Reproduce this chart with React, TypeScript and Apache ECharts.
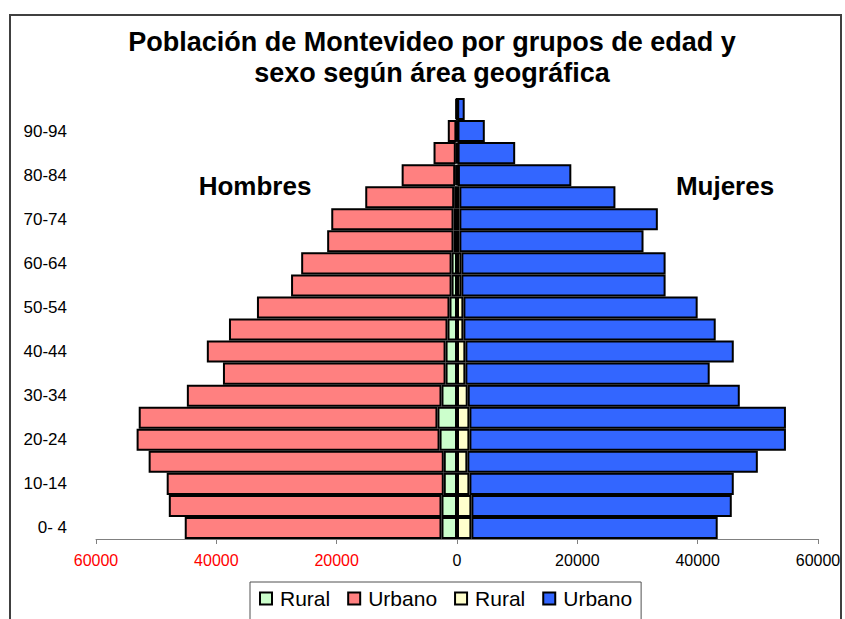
import React, { useEffect, useRef } from "react";
import * as echarts from "echarts";

const categories = ["0- 4", "5- 9", "10-14", "15-19", "20-24", "25-29", "30-34", "35-39", "40-44", "45-49", "50-54", "55-59", "60-64", "65-69", "70-74", "75-79", "80-84", "85-89", "90-94", "95+"];
const menRural = [2580, 2580, 2200, 2200, 2900, 3250, 2580, 1900, 1900, 1580, 1250, 900, 900, 580, 580, 470, 300, 200, 100, 20];
const menUrban = [42670, 45320, 46050, 49050, 50350, 49650, 42320, 37000, 39680, 36320, 32000, 26680, 25000, 21000, 20320, 14780, 8900, 3700, 1430, 250];
const womenRural = [2390, 2390, 2060, 1720, 2060, 2060, 1780, 1390, 1390, 1060, 1060, 720, 720, 390, 390, 390, 150, 100, 80, 30];
const womenUrban = [40940, 43280, 43940, 48280, 52610, 52610, 45220, 40610, 44610, 41940, 38940, 33950, 33950, 30610, 32990, 25940, 18850, 9570, 4540, 1250];

const FONT = 'Arial, "Liberation Sans", sans-serif';

export default function App() {
  const ref = useRef<HTMLDivElement>(null);
  useEffect(() => {
    if (!ref.current) return;
    const chart = echarts.init(ref.current, null, { renderer: "svg" });
    const bar = (name: string, data: number[], color: string) => ({
      name,
      type: "bar",
      stack: "total",
      barCategoryGap: "0%",
      data,
      itemStyle: { color, borderColor: "#000", borderWidth: 2 },
    });
    chart.setOption({
      animation: false,
      backgroundColor: "#fff",
      title: {
        text: "Población de Montevideo por grupos de edad y\nsexo según área geográfica",
        left: 427,
        top: 21,
        textAlign: "center",
        textStyle: { fontFamily: FONT, fontSize: 27, fontWeight: "bold", color: "#000", lineHeight: 31 },
      },
      graphic: [
        { type: "rect", shape: { x: 10, y: 15, width: 831, height: 640 }, style: { fill: "none", stroke: "#404040", lineWidth: 2 }, z: 100 },
        { type: "text", x: 255, y: 186, style: { text: "Hombres", fontFamily: FONT, fontSize: 26, fontWeight: "bold", fill: "#000", textAlign: "center", textVerticalAlign: "middle" } },
        { type: "text", x: 725, y: 186, style: { text: "Mujeres", fontFamily: FONT, fontSize: 26, fontWeight: "bold", fill: "#000", textAlign: "center", textVerticalAlign: "middle" } },
      ],
      legend: {
        data: ["Rural H", "Urbano H", "Rural M", "Urbano M"],
        formatter: (n: string) => n.split(" ")[0],
        left: 250,
        top: 582,
        itemWidth: 12,
        itemHeight: 12,
        itemGap: 17,
        icon: "rect",
        padding: [6, 9, 30, 9],
        borderColor: "#505050",
        borderWidth: 1,
        backgroundColor: "#fff",
        textStyle: { fontFamily: FONT, fontSize: 21, color: "#000", padding: [0, 0, 0, 3] },
      },
      grid: { left: 96, right: 27, top: 98, bottom: 80 },
      xAxis: {
        type: "value",
        min: -60000,
        max: 60000,
        interval: 20000,
        splitLine: { show: false },
        axisLine: { show: true, lineStyle: { color: "#808080", width: 1 } },
        axisTick: { show: true, length: 5, lineStyle: { color: "#808080" } },
        axisLabel: {
          margin: 13,
          fontFamily: FONT,
          fontSize: 16,
          formatter: (v: number) => String(Math.abs(v)),
          color: (v: any) => (Number(v) < 0 ? "#FF0000" : "#000"),
        },
      },
      yAxis: {
        type: "category",
        data: categories,
        axisLine: { show: false, onZero: false },
        axisTick: { show: false },
        axisLabel: { interval: 1, margin: 29, fontFamily: FONT, fontSize: 17, color: "#000" },
      },
      series: [
        bar("Rural H", menRural.map((v) => -v), "#CCFFCC"),
        bar("Urbano H", menUrban.map((v) => -v), "#FF8080"),
        bar("Rural M", womenRural, "#FFFFCC"),
        bar("Urbano M", womenUrban, "#3366FF"),
      ],
    });
    return () => chart.dispose();
  }, []);
  return <div ref={ref} style={{ position: "fixed", left: 0, top: 0, width: 845, height: 619, background: "#fff" }} />;
}
